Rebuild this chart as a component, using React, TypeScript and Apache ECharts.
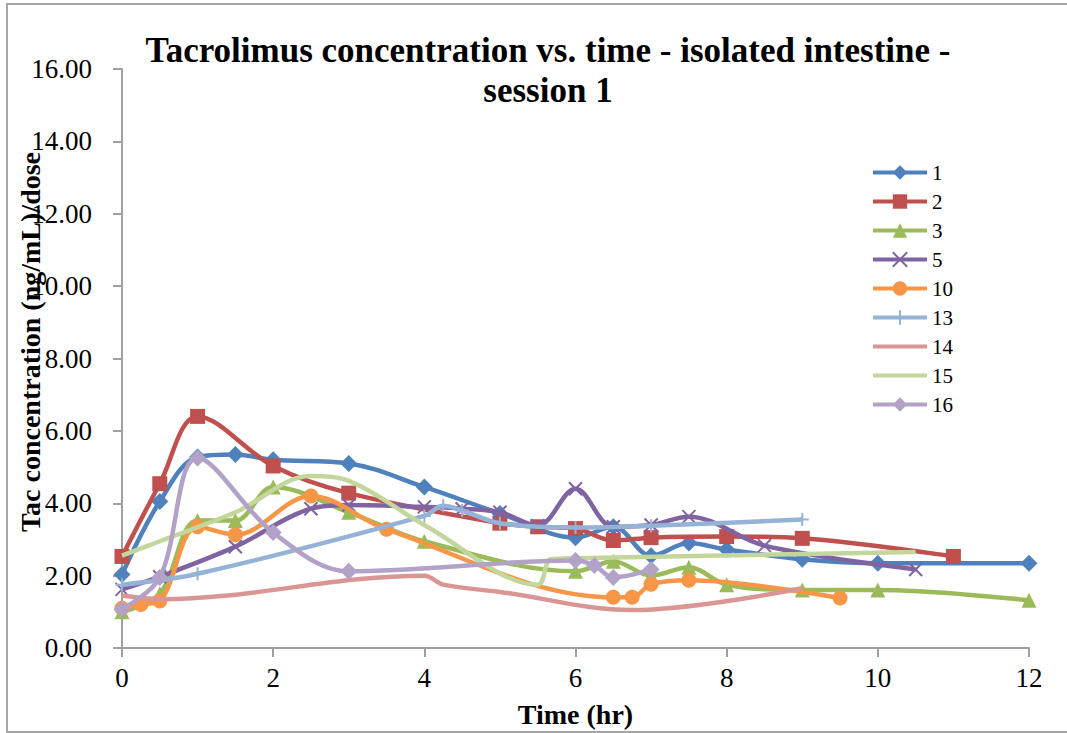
import React, { useEffect, useRef } from "react";
import * as echarts from "echarts";

const seriesNames = ["1", "2", "3", "5", "10", "13", "14", "15", "16"];
const colors = ["#4F81BD", "#C0504D", "#9BBB59", "#8064A2", "#F79646", "#95B3D7", "#DA9694", "#C3D69B", "#B3A2C7"];

const s1: [number, number][] = [[0, 2.03], [0.5, 4.05], [1, 5.28], [1.5, 5.35], [2, 5.2], [3, 5.1], [4, 4.45], [5, 3.72], [6, 3.05], [6.5, 3.35], [7, 2.55], [7.5, 2.9], [8, 2.72], [9, 2.45], [10, 2.34], [12, 2.34]];
const s2: [number, number][] = [[0, 2.53], [0.5, 4.54], [1, 6.4], [2, 5.03], [3, 4.28], [5, 3.45], [5.5, 3.35], [6, 3.3], [6.5, 2.97], [7, 3.05], [8, 3.08], [9, 3.03], [11, 2.53]];
const s3: [number, number][] = [[0, 1.0], [0.5, 1.5], [1, 3.52], [1.5, 3.52], [2, 4.45], [3, 3.75], [4, 2.95], [6, 2.12], [6.5, 2.4], [7, 2.0], [7.5, 2.23], [8, 1.75], [9, 1.6], [10, 1.6], [12, 1.32]];
const s5: [number, number][] = [[0, 1.62], [0.5, 1.97], [1.5, 2.8], [2.5, 3.85], [3, 3.95], [4, 3.9], [4.5, 3.85], [5, 3.75], [5.5, 3.38], [6, 4.4], [6.5, 3.35], [7, 3.4], [7.5, 3.63], [8.5, 2.83], [10.5, 2.17]];
const s10: [number, number][] = [[0, 1.1], [0.25, 1.2], [0.5, 1.3], [1, 3.35], [1.5, 3.13], [2.5, 4.2], [3.5, 3.28], [6.5, 1.4], [6.75, 1.4], [7, 1.76], [7.5, 1.87], [9.5, 1.38]];
const s13: [number, number][] = [[0, 1.75], [1, 2.05], [4, 3.65], [4.25, 3.93], [4.5, 3.8], [5, 3.45], [6, 3.33], [7, 3.38], [9, 3.55]];
const s14: [number, number][] = [[0, 1.45], [0.5, 1.35], [4, 2.0], [4.25, 1.75], [5, 1.55], [6.75, 1.05], [9, 1.65]];
const s15: [number, number][] = [[0, 2.55], [0.5, 2.95], [1.5, 3.75], [2.5, 4.75], [3, 4.62], [4, 3.4], [5.5, 1.75], [5.67, 2.45], [6, 2.48], [10.5, 2.65]];
const s16: [number, number][] = [[0, 1.07], [0.5, 1.95], [1, 5.25], [2, 3.19], [3, 2.12], [6, 2.42], [6.25, 2.28], [6.5, 1.95], [7, 2.17]];

const allData = [s1, s2, s3, s5, s10, s13, s14, s15, s16];

const xTicks = [0, 2, 4, 6, 8, 10, 12];
const yTicks = [0, 2, 4, 6, 8, 10, 12, 14, 16];

const FONT = "'Liberation Serif', 'DejaVu Serif', serif";

const DASH = "path://M0,4L10,4L10,6L0,6Z";

const symbols: any[] = [
  { symbol: "diamond", size: 17 },
  { symbol: "rect", size: 15 },
  { symbol: "triangle", size: 15 },
  { symbol: "path://M0,0L10,10M10,0L0,10", size: 13, stroke: true },
  { symbol: "circle", size: 15 },
  { symbol: "path://M5,0L5,10M0,5L10,5", size: 13, stroke: true },
  { symbol: DASH, size: 10, hidden: true },
  { symbol: DASH, size: 10, hidden: true },
  { symbol: "diamond", size: 17 },
];

export default function App() {
  const ref = useRef<HTMLDivElement>(null);
  useEffect(() => {
    if (!ref.current) return;
    const chart = echarts.init(ref.current, undefined, { renderer: "svg" });
    const series = seriesNames.map((name, i) => {
      const sym = symbols[i];
      return {
        name,
        type: "line",
        data: allData[i],
        smooth: 0.35,
        symbol: sym.symbol,
        symbolSize: sym.size,
        symbolKeepAspect: true,
        showSymbol: !sym.hidden,
        lineStyle: { color: colors[i], width: 4.5 },
        itemStyle: sym.stroke
          ? { color: colors[i], borderColor: colors[i], borderWidth: 2 }
          : { color: colors[i] },
        z: 2 + i,
      };
    });
    const legendData = seriesNames.map((name, i) =>
      symbols[i].hidden ? { name, itemStyle: { opacity: 0 } } : { name }
    );
    chart.setOption({
      animation: false,
      backgroundColor: "#ffffff",
      title: {
        text: "Tacrolimus concentration vs. time - isolated intestine -\nsession 1",
        left: 543,
        textAlign: "center",
        top: 25,
        textStyle: { fontFamily: FONT, fontWeight: "bold", fontSize: 35, color: "#000", lineHeight: 40 },
      },
      legend: {
        orient: "vertical",
        left: 866,
        top: 157,
        itemWidth: 54,
        itemHeight: 18,
        itemGap: 8,
        lineStyle: { width: 4 },
        textStyle: { fontFamily: FONT, fontSize: 21, color: "#000", lineHeight: 20, padding: [0, 0, 0, 0] },
        data: legendData,
      },
      grid: { left: 122, right: 38, top: 69, bottom: 82, containLabel: false },
      xAxis: {
        type: "value",
        min: xTicks[0],
        max: xTicks[xTicks.length - 1],
        interval: 2,
        name: "Time (hr)",
        nameLocation: "middle",
        nameGap: 52,
        nameTextStyle: { fontFamily: FONT, fontWeight: "bold", fontSize: 28, color: "#000" },
        axisLine: { lineStyle: { color: "#a0a0a0", width: 2 } },
        axisTick: { show: true, length: 9, lineStyle: { color: "#a0a0a0", width: 2 } },
        axisLabel: { fontFamily: FONT, fontSize: 27, color: "#000", margin: 16 },
        splitLine: { show: false },
      },
      yAxis: {
        type: "value",
        min: yTicks[0],
        max: yTicks[yTicks.length - 1],
        interval: 2,
        axisLine: { show: true, lineStyle: { color: "#a0a0a0", width: 2 } },
        axisTick: { show: true, length: 9, lineStyle: { color: "#a0a0a0", width: 2 } },
        axisLabel: { fontFamily: FONT, fontSize: 27, color: "#000", margin: 30, formatter: (v: number) => v.toFixed(2) },
        splitLine: { show: false },
      },
      graphic: [
        {
          type: "rect",
          shape: { x: 7, y: 4, width: 1070, height: 728 },
          style: { fill: "none", stroke: "#a6a6a6", lineWidth: 2 },
          silent: true,
          z: -10,
        },
        {
          type: "text",
          x: 30,
          y: 342,
          rotation: Math.PI / 2,
          style: {
            text: "Tac concentration (ng/mL)/dose",
            fontFamily: FONT,
            fontWeight: "bold",
            fontSize: 28,
            fill: "#000",
            align: "center",
            verticalAlign: "middle",
          },
          z: 100,
        },
      ],
      series,
    });
    return () => chart.dispose();
  }, []);
  return (
    <div
      ref={ref}
      style={{ position: "fixed", left: 0, top: 0, width: 1067, height: 733, background: "#fff" }}
    />
  );
}
